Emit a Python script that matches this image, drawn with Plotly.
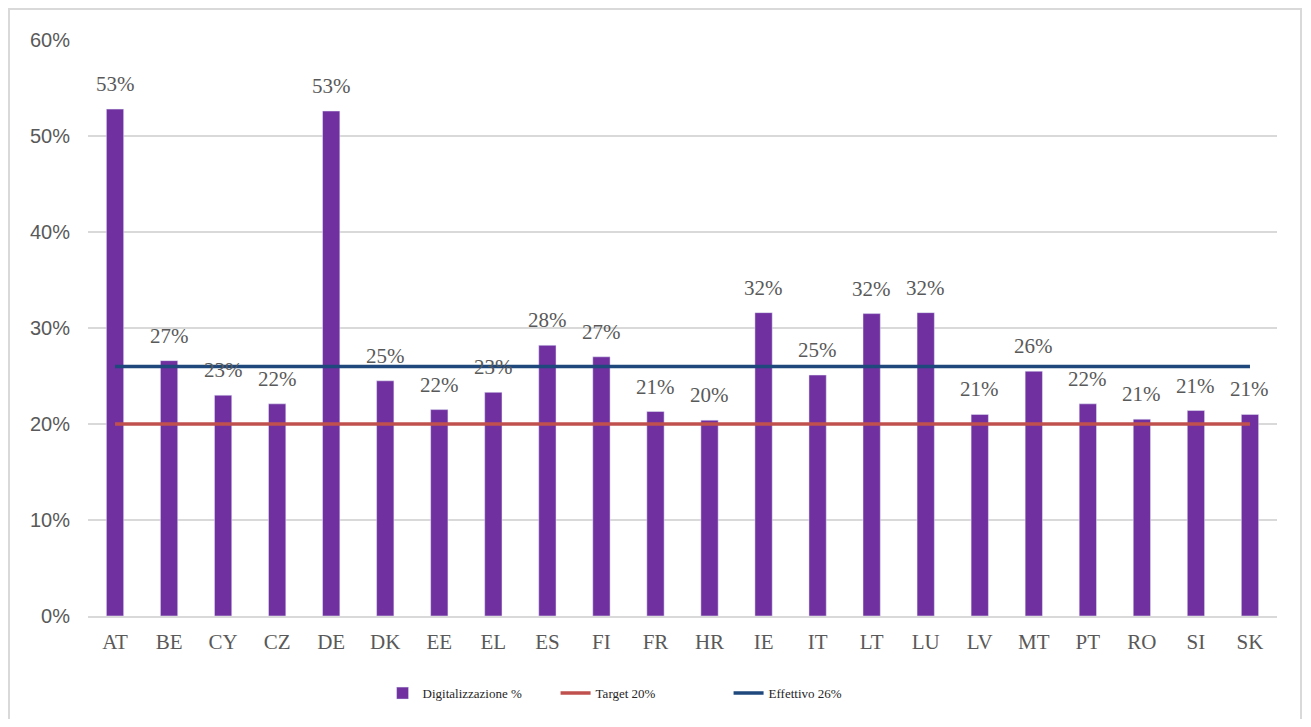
import plotly.graph_objects as go

# Dati
paesi = ['AT', 'BE', 'CY', 'CZ', 'DE', 'DK', 'EE', 'EL', 'ES', 'FI', 'FR',
         'HR', 'IE', 'IT', 'LT', 'LU', 'LV', 'MT', 'PT', 'RO', 'SI', 'SK']
digitalizzazione = [52.8, 26.6, 23.0, 22.1, 52.6, 24.5, 21.5, 23.3, 28.2, 27.0, 21.3,
                    20.4, 31.6, 25.1, 31.5, 31.6, 21.0, 25.5, 22.1, 20.5, 21.4, 21.0]
etichette = ['53%', '27%', '23%', '22%', '53%', '25%', '22%', '23%', '28%', '27%', '21%',
             '20%', '32%', '25%', '32%', '32%', '21%', '26%', '22%', '21%', '21%', '21%']
target = [20.0] * len(paesi)
effettivo = [26.0] * len(paesi)
y_ticks = [0, 10, 20, 30, 40, 50, 60]
y_tick_labels = ['0%', '10%', '20%', '30%', '40%', '50%', '60%']

SERIF = 'Liberation Serif, DejaVu Serif, serif'
SANS = 'Liberation Sans, Arial, sans-serif'

fig = go.Figure()

fig.add_trace(go.Bar(
    x=paesi,
    y=digitalizzazione,
    name='Digitalizzazione %',
    marker=dict(color='#7030A0'),
))

fig.add_trace(go.Scatter(
    x=paesi,
    y=target,
    mode='lines',
    name='Target 20%',
    line=dict(color='#C0504D', width=3.5),
))

fig.add_trace(go.Scatter(
    x=paesi,
    y=effettivo,
    mode='lines',
    name='Effettivo 26%',
    line=dict(color='#1F497D', width=3.5),
))

# Etichette dei valori sopra le barre
for p, v, t in zip(paesi, digitalizzazione, etichette):
    fig.add_annotation(
        x=p, y=v, text=t, showarrow=False,
        yanchor='middle', yshift=25,
        font=dict(family=SERIF, size=21, color='#595959'),
    )

# Cornice esterna (la pagina ha già 8px di margine)
fig.add_shape(
    type='rect', xref='paper', yref='paper',
    x0=1 / 1189 - 80 / 1189, x1=1213 / 1189, y0=-120 / 577, y1=1 + 31 / 577,
    line=dict(color='#d9d9d9', width=2), fillcolor='rgba(0,0,0,0)',
    layer='above',
)

fig.update_layout(
    width=1295,
    height=711,
    margin=dict(l=80, r=26, t=32, b=102),
    plot_bgcolor='rgba(0,0,0,0)',
    paper_bgcolor='white',
    bargap=0.68,
    showlegend=True,
    legend=dict(
        orientation='h',
        x=0.466, xanchor='center',
        y=-0.132, yanchor='middle',
        font=dict(family=SERIF, size=13, color='#262626'),
        entrywidth=128,
    ),
)

fig.update_xaxes(
    showgrid=False,
    showline=True,
    linecolor='#d9d9d9',
    linewidth=1.5,
    ticks='',
    tickfont=dict(family=SERIF, size=21, color='#595959'),
    ticklabelstandoff=6,
)

fig.update_yaxes(
    range=[0, 60],
    tickvals=y_ticks,
    ticktext=y_tick_labels,
    showgrid=True,
    gridcolor='#d9d9d9',
    gridwidth=1.5,
    zeroline=False,
    showline=False,
    ticks='',
    tickfont=dict(family=SANS, size=20, color='#595959'),
    ticklabelstandoff=17,
)

fig.write_html("out.html")
